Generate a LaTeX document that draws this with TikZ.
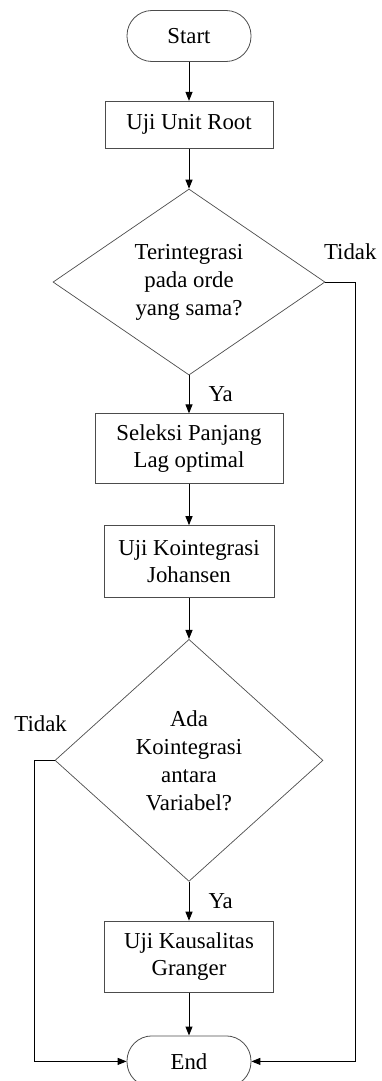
\documentclass[tikz,border=0pt]{standalone}
\usepackage{fontspec}
\setmainfont{Liberation Serif}
\usetikzlibrary{positioning,arrows.meta,shapes.geometric}

\begin{document}
\begin{tikzpicture}[
  x=1pt, y=1pt,
  node distance=40pt,
  term/.style={draw=black!70, rounded corners=25pt, minimum width=124pt, minimum height=51pt, line width=0.8pt, font=\fontsize{22.8}{27}\selectfont},
  box/.style={draw=black!70, align=center, minimum height=47pt, line width=0.8pt, font=\fontsize{22.8}{27}\selectfont},
  dec/.style={draw=black!70, diamond, align=center, inner sep=0pt, line width=0.7pt, font=\fontsize{22.8}{28}\selectfont},
  lbl/.style={inner sep=2pt, font=\fontsize{22.8}{27}\selectfont},
  arr/.style={-{Triangle[length=9pt, width=7pt]}, line width=1pt}
]
\useasboundingbox (0,0) rectangle (382,-1081);
\node[term] (start) at (189,-36) {Start};
\node[box, minimum width=168pt, below=39pt of start] (unit) {Uji Unit Root};
\node[dec, minimum width=272pt, minimum height=186pt, below=of unit] (integ) {Terintegrasi\\pada orde\\yang sama?};
\node[box, minimum width=188pt, minimum height=70pt, below=38pt of integ] (lag) {Seleksi Panjang\\Lag optimal};
\node[box, minimum width=170pt, minimum height=72pt, below=41pt of lag] (joh) {Uji Kointegrasi\\Johansen};
\node[dec, minimum width=268pt, minimum height=242pt, below=41pt of joh] (koin) {Ada\\Kointegrasi\\antara\\Variabel?};
\node[box, minimum width=169pt, minimum height=71pt, below=39pt of koin] (granger) {Uji Kausalitas\\Granger};
\node[term, below=43pt of granger] (end) {End};
\draw[arr] (start) -- (unit);
\draw[arr] (unit) -- (integ);
\draw[arr] (integ) -- node[lbl, right=17pt] {Ya} (lag);
\draw[arr] (lag) -- (joh);
\draw[arr] (joh) -- (koin);
\draw[arr] (koin) -- node[lbl, right=17pt] {Ya} (granger);
\draw[arr] (granger) -- (end);
\draw[arr] (integ.east) -- node[lbl, pos=0.83, above=20pt] {Tidak} ++(30,0) |- (end.east);
\draw[arr] (koin.west) -- node[lbl, pos=0.7, above=26pt] {Tidak} ++(-20,0) |- (end.west);
\end{tikzpicture}
\end{document}
